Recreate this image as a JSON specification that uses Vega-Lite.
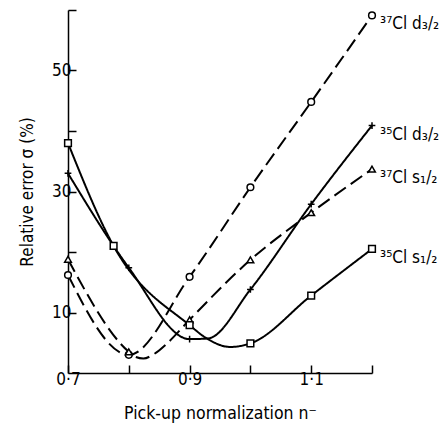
{
  "$schema": "https://vega.github.io/schema/vega-lite/v6.json",
  "width": 304,
  "height": 363,
  "autosize": {"type": "none"},
  "padding": {"left": 68, "top": 10, "right": 72, "bottom": 59},
  "background": "white",
  "config": {
    "view": {"stroke": null},
    "font": "DejaVu Sans Condensed, Liberation Sans Narrow, sans-serif"
  },
  "datasets": {
    "markers": [
      {"series": "37Cl d3/2", "x": 0.7, "y": 16.2},
      {"series": "37Cl d3/2", "x": 0.8, "y": 3.0},
      {"series": "37Cl d3/2", "x": 0.9, "y": 15.9},
      {"series": "37Cl d3/2", "x": 1.0, "y": 30.7},
      {"series": "37Cl d3/2", "x": 1.1, "y": 44.8},
      {"series": "37Cl d3/2", "x": 1.2, "y": 59.1},
      {"series": "37Cl s1/2", "x": 0.7, "y": 18.8},
      {"series": "37Cl s1/2", "x": 0.8, "y": 3.5},
      {"series": "37Cl s1/2", "x": 0.9, "y": 8.8},
      {"series": "37Cl s1/2", "x": 1.0, "y": 18.7},
      {"series": "37Cl s1/2", "x": 1.1, "y": 26.5},
      {"series": "37Cl s1/2", "x": 1.2, "y": 33.7},
      {"series": "35Cl d3/2", "x": 0.7, "y": 33.0},
      {"series": "35Cl d3/2", "x": 0.8, "y": 17.4},
      {"series": "35Cl d3/2", "x": 0.9, "y": 5.6},
      {"series": "35Cl d3/2", "x": 1.0, "y": 13.8},
      {"series": "35Cl d3/2", "x": 1.1, "y": 27.9},
      {"series": "35Cl d3/2", "x": 1.2, "y": 40.9},
      {"series": "35Cl s1/2", "x": 0.7, "y": 38.0},
      {"series": "35Cl s1/2", "x": 0.775, "y": 21.0},
      {"series": "35Cl s1/2", "x": 0.9, "y": 7.9},
      {"series": "35Cl s1/2", "x": 1.0, "y": 4.9},
      {"series": "35Cl s1/2", "x": 1.1, "y": 12.8},
      {"series": "35Cl s1/2", "x": 1.2, "y": 20.5}
    ],
    "curves": [
      {"series": "37Cl d3/2", "x": 0.7, "y": 16.2},
      {"series": "37Cl d3/2", "x": 0.8, "y": 3.0},
      {"series": "37Cl d3/2", "x": 0.9, "y": 15.9},
      {"series": "37Cl d3/2", "x": 1.0, "y": 30.7},
      {"series": "37Cl d3/2", "x": 1.1, "y": 44.8},
      {"series": "37Cl d3/2", "x": 1.2, "y": 59.1},
      {"series": "37Cl s1/2", "x": 0.7, "y": 18.8},
      {"series": "37Cl s1/2", "x": 0.8, "y": 3.5},
      {"series": "37Cl s1/2", "x": 0.81, "y": 2.7},
      {"series": "37Cl s1/2", "x": 0.824, "y": 2.4},
      {"series": "37Cl s1/2", "x": 0.841, "y": 3.1},
      {"series": "37Cl s1/2", "x": 0.863, "y": 4.9},
      {"series": "37Cl s1/2", "x": 0.9, "y": 8.8},
      {"series": "37Cl s1/2", "x": 1.0, "y": 18.7},
      {"series": "37Cl s1/2", "x": 1.1, "y": 26.5},
      {"series": "37Cl s1/2", "x": 1.2, "y": 33.7},
      {"series": "35Cl d3/2", "x": 0.7, "y": 33.0},
      {"series": "35Cl d3/2", "x": 0.8, "y": 17.4},
      {"series": "35Cl d3/2", "x": 0.9, "y": 5.6},
      {"series": "35Cl d3/2", "x": 0.93, "y": 5.7},
      {"series": "35Cl d3/2", "x": 1.0, "y": 13.8},
      {"series": "35Cl d3/2", "x": 1.1, "y": 27.9},
      {"series": "35Cl d3/2", "x": 1.2, "y": 40.9},
      {"series": "35Cl s1/2", "x": 0.7, "y": 38.0},
      {"series": "35Cl s1/2", "x": 0.775, "y": 21.0},
      {"series": "35Cl s1/2", "x": 0.9, "y": 7.9},
      {"series": "35Cl s1/2", "x": 0.93, "y": 5.6},
      {"series": "35Cl s1/2", "x": 0.967, "y": 4.3},
      {"series": "35Cl s1/2", "x": 1.0, "y": 4.9},
      {"series": "35Cl s1/2", "x": 1.1, "y": 12.8},
      {"series": "35Cl s1/2", "x": 1.2, "y": 20.5}
    ],
    "labels": [
      {"series": "37Cl d3/2", "x": 1.2, "y": 59.1, "label": "³⁷Cl d₃/₂"},
      {"series": "35Cl d3/2", "x": 1.2, "y": 40.9, "label": "³⁵Cl d₃/₂"},
      {"series": "37Cl s1/2", "x": 1.2, "y": 33.7, "label": "³⁷Cl s₁/₂"},
      {"series": "35Cl s1/2", "x": 1.2, "y": 20.5, "label": "³⁵Cl s₁/₂"}
    ]
  },
  "encoding": {
    "x": {
      "field": "x",
      "type": "quantitative",
      "scale": {"domain": [0.7, 1.2], "nice": false, "zero": false},
      "axis": {
        "values": [0.7, 0.8, 0.9, 1.0, 1.1, 1.2],
        "labelExpr": "(round(datum.value*10) % 2 == 1) ? replace(format(datum.value, '.1f'), '.', '·') : ''",
        "tickSize": -8,
        "grid": false,
        "domainColor": "black",
        "domainWidth": 1.5,
        "tickColor": "black",
        "tickWidth": 1.5,
        "labelFontSize": 17,
        "labelColor": "black",
        "labelPadding": 6,
        "labelFlush": false,
        "labelOverlap": false,
        "title": "Pick-up normalization n⁻",
        "titleFontSize": 17.5,
        "titleFontWeight": "normal",
        "titleColor": "black",
        "titlePadding": 17
      }
    },
    "y": {
      "field": "y",
      "type": "quantitative",
      "scale": {"domain": [0, 60], "nice": false, "zero": false},
      "axis": {
        "values": [10, 20, 30, 40, 50, 60],
        "labelExpr": "(datum.value % 20 == 10) ? datum.label : ''",
        "tickSize": -8,
        "grid": false,
        "domainColor": "black",
        "domainWidth": 1.5,
        "tickColor": "black",
        "tickWidth": 1.5,
        "labelFontSize": 17,
        "labelColor": "black",
        "labelPadding": 5,
        "labelOverlap": false,
        "title": "Relative error σ (%)",
        "titleFontSize": 17,
        "titleFontWeight": "normal",
        "titleColor": "black",
        "titlePadding": 15
      }
    }
  },
  "layer": [
    {
      "data": {"name": "curves"},
      "mark": {"type": "line", "interpolate": "monotone", "strokeWidth": 2, "color": "black"},
      "encoding": {
        "strokeDash": {
          "field": "series",
          "type": "nominal",
          "scale": {
            "domain": ["37Cl d3/2", "37Cl s1/2", "35Cl d3/2", "35Cl s1/2"],
            "range": [[14, 6], [14, 6], [1, 0], [1, 0]]
          },
          "legend": null
        }
      }
    },
    {
      "data": {"name": "markers"},
      "mark": {"type": "point", "filled": true, "fill": "white", "stroke": "black", "strokeWidth": 1.5, "size": 45, "opacity": 1},
      "encoding": {
        "shape": {
          "field": "series",
          "type": "nominal",
          "scale": {
            "domain": ["37Cl d3/2", "37Cl s1/2", "35Cl d3/2", "35Cl s1/2"],
            "range": ["circle", "triangle-up", "M-1,0L1,0M0,-1L0,1", "square"]
          },
          "legend": null
        }
      }
    },
    {
      "data": {"name": "labels"},
      "mark": {"type": "text", "align": "left", "baseline": "middle", "dx": 8, "dy": 9, "fontSize": 17, "color": "black"},
      "encoding": {"text": {"field": "label"}}
    }
  ]
}
